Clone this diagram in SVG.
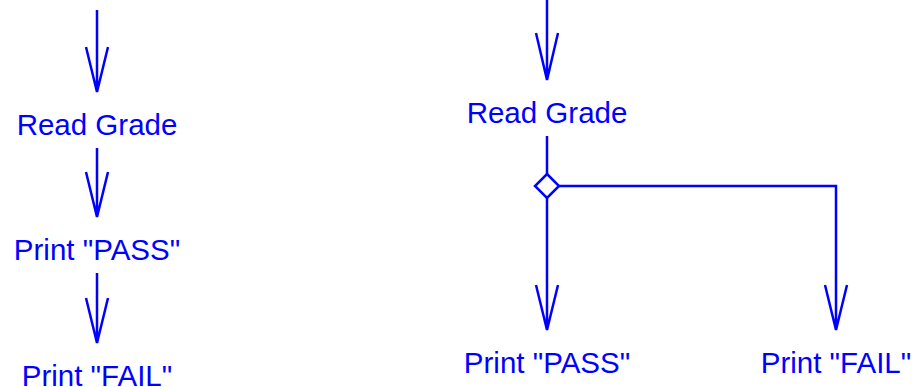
<svg xmlns="http://www.w3.org/2000/svg" width="912" height="387" viewBox="0 0 912 387">
<style>
.t{font-family:"Liberation Sans",Arial,sans-serif;font-size:29.5px;fill:#0000ff;text-anchor:middle}
.c{stroke:#0000ff;stroke-width:2.5;fill:none}
</style>
<rect width="912" height="387" fill="#ffffff"/>
<g id="connectors" class="c">
<path d="M97,10V92M86,47L97,92L108,47"/>
<path d="M97,148V217M86,172L97,217L108,172"/>
<path d="M97,273V343M86,298L97,343L108,298"/>
<path d="M547,0V80M536,33L547,80L558,33"/>
<path d="M547,136V174"/>
<path d="M547,174L559,186L547,198L535,186Z"/>
<path d="M547,198V330M536,285L547,330L558,285"/>
<path d="M559,186H836V330M825,285L836,330L847,285"/>
</g>
<g id="left-read"><text class="t" x="97" y="135">Read Grade</text></g>
<g id="left-pass"><text class="t" x="97" y="260">Print "PASS"</text></g>
<g id="left-fail"><text class="t" x="97" y="386">Print "FAIL"</text></g>
<g id="right-read"><text class="t" x="547" y="123">Read Grade</text></g>
<g id="right-pass"><text class="t" x="547" y="373">Print "PASS"</text></g>
<g id="right-fail"><text class="t" x="836" y="373">Print "FAIL"</text></g>
</svg>
